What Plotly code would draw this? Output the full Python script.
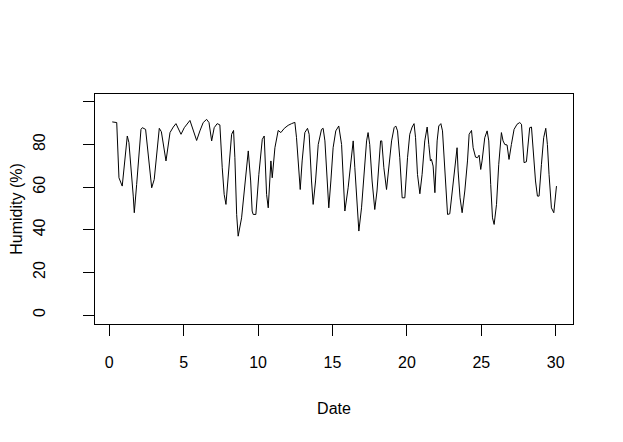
import plotly.graph_objects as go

# Data (day, relative humidity %)
days = [0.2, 0.5, 0.65, 0.76, 0.87, 1.21, 1.32, 1.61, 1.68, 1.84, 2.13, 2.22, 2.44, 2.85, 3.02,
        3.36, 3.5, 3.81, 4.08, 4.3, 4.48, 4.82, 5.04, 5.42, 5.87, 6.09, 6.31, 6.54, 6.7, 6.88,
        7.05, 7.25, 7.43, 7.59, 7.72, 7.84, 8.06, 8.22, 8.35, 8.44, 8.56, 8.66, 8.89, 9.11,
        9.34, 9.5, 9.6, 9.67, 9.85, 10.05, 10.28, 10.41, 10.5, 10.57, 10.68, 10.86, 10.95,
        11.13, 11.35, 11.53, 11.76, 12.02, 12.25, 12.47, 12.58, 12.69, 12.83, 12.96, 13.14,
        13.32, 13.43, 13.59, 13.7, 13.86, 14.04, 14.26, 14.37, 14.49, 14.64, 14.75, 14.89,
        15.04, 15.22, 15.42, 15.61, 15.78, 15.83, 16.05, 16.39, 16.5, 16.66, 16.77, 16.95,
        17.13, 17.29, 17.39, 17.5, 17.66, 17.84, 17.99, 18.13, 18.23, 18.31, 18.45, 18.63,
        18.8, 18.97, 19.14, 19.25, 19.37, 19.52, 19.68, 19.86, 20.04, 20.19, 20.35, 20.48,
        20.58, 20.71, 20.87, 21.02, 21.2, 21.36, 21.47, 21.58, 21.65, 21.76, 21.88, 22.03,
        22.14, 22.28, 22.39, 22.55, 22.73, 22.88, 23.1, 23.26, 23.37, 23.44, 23.57, 23.71,
        23.89, 24.07, 24.18, 24.34, 24.45, 24.61, 24.74, 24.85, 24.96, 25.05, 25.23, 25.39,
        25.5, 25.63, 25.75, 25.86, 26.02, 26.17, 26.35, 26.46, 26.58, 26.73, 26.86, 27.02,
        27.2, 27.4, 27.58, 27.7, 27.8, 27.87, 28.03, 28.14, 28.25, 28.37, 28.47, 28.64,
        28.77, 28.88, 29.04, 29.19, 29.33, 29.44, 29.55, 29.71, 29.87, 29.98, 30.05]
humidity = [90.6, 90.3, 64.4, 62.0, 60.5, 84.0, 80.9, 55.8, 48.0, 61.3, 87.1, 87.9, 87.1, 59.7, 63.6,
            87.6, 86.0, 72.3, 85.6, 88.2, 89.8, 84.8, 87.9, 91.3, 81.9, 86.4, 90.3, 91.8, 90.3, 81.7,
            87.9, 89.8, 89.2, 69.1, 56.6, 51.9, 69.1, 84.8, 86.6, 73.8, 47.1, 37.0, 45.6, 61.3,
            77.0, 62.9, 48.8, 47.2, 47.2, 66.0, 82.4, 84.0, 69.1, 56.6, 50.3, 72.3, 64.4,
            78.5, 86.6, 85.6, 87.6, 89.0, 89.8, 90.4, 83.2, 70.7, 58.9, 72.3, 85.6,
            87.6, 84.8, 62.9, 51.9, 62.9, 80.0, 87.1, 87.6, 81.7, 61.3, 50.3, 62.9,
            78.5, 86.4, 88.7, 80.0, 59.7, 48.8, 59.7, 81.7, 69.1, 50.3, 39.4, 50.3,
            66.0, 81.7, 85.6, 80.0, 62.9, 49.5, 58.2, 73.8, 81.7, 81.7, 69.1, 58.9,
            69.1, 81.7, 87.9, 88.7, 86.4, 73.8, 55.0, 55.0, 73.8, 84.8, 88.2, 89.8,
            83.2, 66.0, 56.9, 66.0, 81.7, 88.2, 80.0, 72.3, 73.0, 69.9, 57.4, 81.7,
            88.7, 89.8, 86.4, 66.0, 47.2, 47.5, 61.3, 72.3, 78.5, 67.6, 55.0, 48.0,
            58.2, 72.3, 84.8, 86.6, 78.5, 74.1, 73.8, 75.0, 68.3, 72.3, 83.2, 86.4,
            81.7, 61.3, 45.6, 42.5, 51.9, 70.7, 85.6, 81.7, 80.0, 79.8, 73.0, 80.0,
            87.1, 89.5, 90.3, 89.5, 80.0, 71.5, 71.9, 81.7, 87.9, 88.2, 78.5, 62.9,
            55.8, 55.8, 70.7, 83.2, 87.6, 80.0, 66.0, 50.3, 48.0, 55.8, 60.5]

x_ticks = [0, 5, 10, 15, 20, 25, 30]
y_ticks = [0, 20, 40, 60, 80, 100]
y_ticktext = ["0", "20", "40", "60", "80", ""]

FONT = "Liberation Sans, Arial, sans-serif"

fig = go.Figure()
fig.add_trace(go.Scatter(x=days, y=humidity, mode="lines",
                         line=dict(color="black", width=1), showlegend=False,
                         hoverinfo="skip"))

# The page body has an 8px default margin, so the figure is sized/offset to compensate
fig.update_layout(
    width=615, height=434,
    margin=dict(l=87, r=50, t=86, b=118, autoexpand=False),
    paper_bgcolor="white", plot_bgcolor="white",
    font=dict(family=FONT, size=16, color="black"),
    xaxis=dict(
        range=[-0.96, 31.16], tickvals=x_ticks, ticktext=[str(v) for v in x_ticks],
        showgrid=False, zeroline=False, showline=True, mirror=True,
        linecolor="black", linewidth=1, ticks="outside", ticklen=11,
        tickcolor="black", tickwidth=1, ticklabelstandoff=13,
        title=dict(text="Date", standoff=32, font=dict(size=16)),
        automargin=False,
    ),
    yaxis=dict(
        range=[-4.2, 103.7], tickvals=y_ticks, ticktext=y_ticktext,
        showgrid=False, zeroline=False, showline=True, mirror=True,
        linecolor="black", linewidth=1, ticks="outside", ticklen=11,
        tickcolor="black", tickwidth=1, tickangle=-90, ticklabelstandoff=32,
        title=dict(text="Humidity (%)", standoff=15, font=dict(size=16)),
        automargin=False,
    ),
)

fig.write_html("out.html")
